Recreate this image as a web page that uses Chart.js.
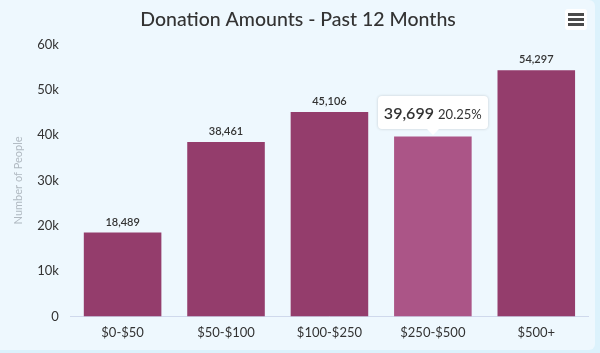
<!DOCTYPE html>
<html>
<head>
<meta charset="utf-8">
<script src="https://cdn.jsdelivr.net/npm/chart.js@4"></script>
<style>
  html, body { margin:0; padding:0; }
  body { width:600px; height:353px; background:#dcf2fc; position:relative; overflow:hidden; font-family: Lato, sans-serif; }
  #card { position:absolute; left:0; top:0; width:595px; height:350px; background:#eef8fe; border-radius:0 6px 6px 0; }
  #wrap { position:absolute; left:0; top:0; width:595px; height:350px; }
  #menu { position:absolute; left:565px; top:9px; width:22px; height:21px; background:#fff; border-radius:3px; }
  #menu span { position:absolute; left:3px; width:16px; height:3px; background:#4a4a4a; }
  #tip { position:absolute; background:#fff; border-radius:4px; box-shadow:0 0 3px rgba(0,0,0,0.18); padding:0 6px; height:33px; line-height:34px; white-space:nowrap; color:#333; display:none; }
  #tip .v { font-size:16px; font-weight:600; }
  #tip .p { font-size:13px; }
  #tip:after { content:''; position:absolute; left:50%; bottom:-6px; margin-left:-6px; border-left:6px solid transparent; border-right:6px solid transparent; border-top:6px solid #fff; }
</style>
</head>
<body>
<div id="card"></div>
<div id="wrap"><canvas id="c" width="595" height="350"></canvas></div>
<div id="menu"><span style="top:4px"></span><span style="top:9px"></span><span style="top:14px"></span></div>
<div id="tip"></div>
<script>
const categories = ['$0-$50', '$50-$100', '$100-$250', '$250-$500', '$500+'];
const people = [18489, 38461, 45106, 39699, 54297];
const yTicks = [0, 10000, 20000, 30000, 40000, 50000, 60000];
const titleText = 'Donation Amounts - Past 12 Months';
const yTitle = 'Number of People';
const activeIndex = 3;

const total = people.reduce((a, b) => a + b, 0);
const fmt = v => v.toLocaleString('en-US');

const labelPlugin = {
  id: 'valueLabels',
  afterDatasetsDraw(chart) {
    const ctx = chart.ctx;
    const meta = chart.getDatasetMeta(0);
    ctx.save();
    ctx.font = '600 11px Lato, sans-serif';
    ctx.fillStyle = '#333';
    ctx.textAlign = 'center';
    ctx.textBaseline = 'bottom';
    meta.data.forEach((bar, i) => {
      ctx.fillText(fmt(people[i]), bar.x, bar.y - 5);
    });
    ctx.restore();
  }
};

function externalTip(context) {
  const tipEl = document.getElementById('tip');
  const model = context.tooltip;
  if (model.opacity === 0 || !model.dataPoints || !model.dataPoints.length) { tipEl.style.display = 'none'; return; }
  const dp = model.dataPoints[0];
  const v = people[dp.dataIndex];
  tipEl.innerHTML = '<span class="v">' + fmt(v) + '</span> <span class="p">' + (v / total * 100).toFixed(2) + '%</span>';
  tipEl.style.display = 'block';
  const w = tipEl.offsetWidth;
  tipEl.style.left = (model.caretX - w / 2) + 'px';
  tipEl.style.top = (model.caretY - 33 - 7) + 'px';
}

const chart = new Chart(document.getElementById('c'), {
  type: 'bar',
  data: {
    labels: categories,
    datasets: [{
      data: people,
      backgroundColor: '#943d6c',
      hoverBackgroundColor: '#ab5587',
      borderWidth: 0,
      categoryPercentage: 0.75,
      barPercentage: 1.0
    }]
  },
  options: {
    responsive: false,
    animation: false,
    layout: { padding: { left: 8, right: 7, top: 0, bottom: 0 } },
    plugins: {
      legend: { display: false },
      title: {
        display: true, text: titleText, color: '#333',
        font: { family: 'Lato, sans-serif', size: 19.5, weight: '500' },
        padding: { top: 8, bottom: 13 }
      },
      tooltip: { enabled: false, external: externalTip, mode: 'index', intersect: false }
    },
    scales: {
      x: {
        grid: { display: false, drawTicks: false },
        border: { display: true, color: '#cfd9ec', width: 1 },
        ticks: { color: '#333', font: { family: 'Lato, sans-serif', size: 13 }, padding: 9 }
      },
      y: {
        min: 0, max: 60000,
        afterBuildTicks(axis) { axis.ticks = yTicks.map(v => ({ value: v })); },
        grid: { display: false, drawTicks: false },
        border: { display: false },
        title: { display: true, text: yTitle, color: '#b0b9c1', font: { family: 'Lato, sans-serif', size: 11 }, padding: { top: 4, bottom: 0 } },
        ticks: {
          color: '#333', font: { family: 'Lato, sans-serif', size: 13 }, padding: 12,
          callback: v => v === 0 ? '0' : (v / 1000) + 'k'
        }
      }
    }
  },
  plugins: [labelPlugin]
});

const meta = chart.getDatasetMeta(0);
const el = meta.data[activeIndex];
chart.setActiveElements([{ datasetIndex: 0, index: activeIndex }]);
chart.tooltip.setActiveElements([{ datasetIndex: 0, index: activeIndex }], { x: el.x, y: el.y });
chart.update('none');
</script>
</body>
</html>
